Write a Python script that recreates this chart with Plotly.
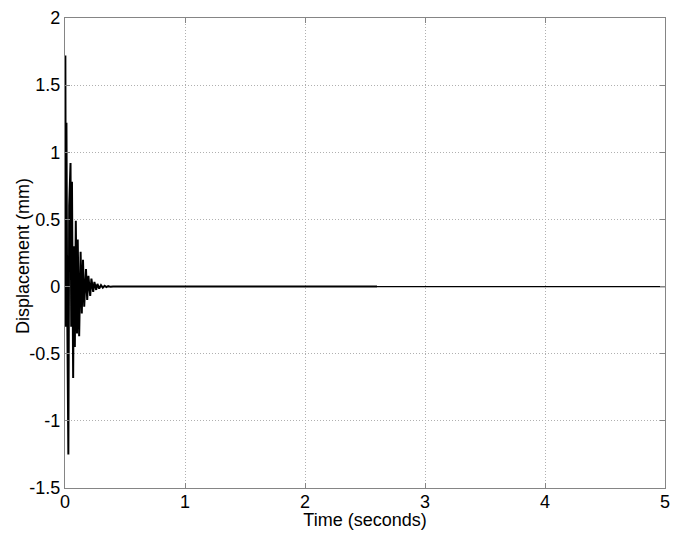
import plotly.graph_objects as go

# Transient response: extrema (time in s, displacement in mm)
time_s = [0.000, 0.003, 0.008, 0.012, 0.018, 0.028, 0.035, 0.046, 0.052, 0.058,
          0.068, 0.074, 0.082, 0.090, 0.100, 0.106, 0.118, 0.130, 0.140, 0.150,
          0.160, 0.175, 0.185, 0.195, 0.210, 0.220, 0.235, 0.245, 0.260, 0.270,
          0.285, 0.300, 0.315, 0.330, 0.345, 0.360, 0.380, 0.400, 0.500, 2.600]
disp_mm = [0.00, 1.72, -0.30, 1.22, -0.10, -1.25, 0.60, 0.92, -0.30, 0.78,
           -0.68, 0.30, -0.45, 0.49, -0.35, 0.35, -0.37, 0.26, -0.20, 0.20,
           -0.15, 0.13, -0.10, 0.08, -0.07, 0.06, -0.04, 0.035, -0.025, 0.02,
           -0.015, 0.01, -0.008, 0.006, -0.004, 0.003, -0.002, 0.001, 0.00, 0.00]

# Steady tail (thinner line in the picture)
tail_time = [2.6, 5.0]
tail_disp = [0.0, 0.0]

x_ticks = [0, 1, 2, 3, 4, 5]
y_ticks = [-1.5, -1, -0.5, 0, 0.5, 1, 1.5, 2]
y_tick_text = ["-1.5", "-1", "-0.5", "0", "0.5", "1", "1.5", "2"]

fig = go.Figure()
fig.add_trace(go.Scatter(x=time_s, y=disp_mm, mode="lines",
                         line=dict(color="black", width=2), showlegend=False))
fig.add_trace(go.Scatter(x=tail_time, y=tail_disp, mode="lines",
                         line=dict(color="black", width=1.2), showlegend=False))

fam = "Liberation Sans, Arial, sans-serif"
tick_font = dict(family=fam, size=18, color="black")
axis_common = dict(
    showline=True, linecolor="#858585", linewidth=1.3, mirror="ticks",
    ticks="inside", ticklen=5, tickcolor="#858585",
    showgrid=True, gridcolor="#b0b0b0", griddash="1px,2px", gridwidth=1,
    zeroline=False, tickfont=tick_font, automargin=False,
)

# The page body has an 8px default margin; the figure size compensates for it.
fig.update_layout(
    width=666, height=522,
    margin=dict(l=57, r=9, t=10, b=42),
    paper_bgcolor="white", plot_bgcolor="white",
    font=tick_font,
    xaxis=dict(range=[0, 5], tickvals=x_ticks, ticklabelstandoff=-3,
               title=dict(text="Time (seconds)",
                          font=dict(family=fam, size=18, color="black"),
                          standoff=6),
               **axis_common),
    yaxis=dict(range=[-1.5, 2], tickvals=y_ticks, ticktext=y_tick_text,
               **axis_common),
)

fig.add_annotation(
    text="Displacement (mm)", textangle=-90,
    xref="paper", yref="paper", x=0, y=0.5,
    xanchor="center", yanchor="middle", xshift=-42, yshift=-3,
    showarrow=False, font=dict(family=fam, size=18, color="black"),
)

fig.write_html("out.html")
